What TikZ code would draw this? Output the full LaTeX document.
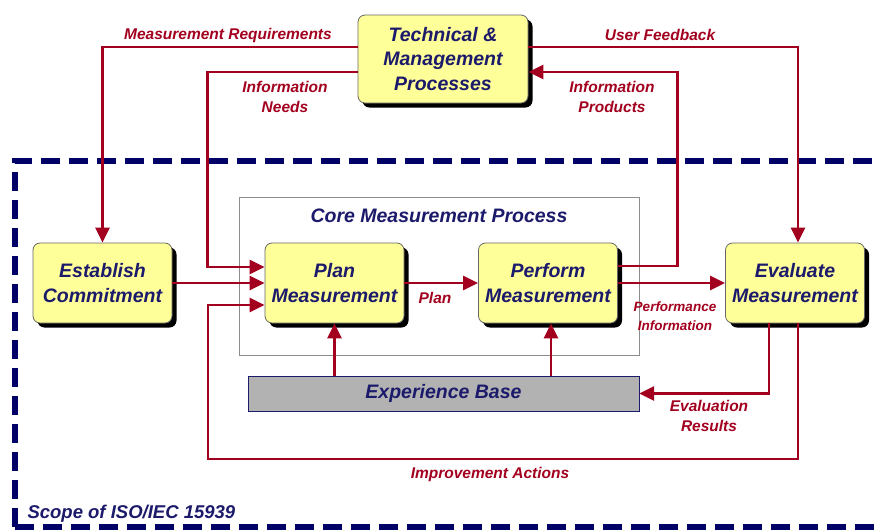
\documentclass[tikz,border=0pt]{standalone}
\usepackage{fontspec}
\setmainfont{Liberation Sans}
\usetikzlibrary{arrows.meta,shadows}
\definecolor{boxyellow}{HTML}{FFFF99}
\definecolor{inkblue}{HTML}{1C1A6B}
\definecolor{flowred}{HTML}{A3001F}
\definecolor{scopeblue}{HTML}{000066}
\tikzset{
    >={Triangle[length=15pt,width=14pt]},
    proc/.style={draw=black!60,thick,rounded corners=7pt,fill=boxyellow,
        minimum width=139pt,minimum height=80pt,align=center,text=inkblue,
        font=\fontsize{19.5}{24.5}\selectfont\bfseries\itshape,
        drop shadow={shadow xshift=4.5pt,shadow yshift=-4.5pt,fill=black,opacity=1}},
    flow/.style={draw=flowred,line width=2.9pt,->},
    lbl/.style={text=flowred,align=center,font=\fontsize{15.5}{20}\selectfont\bfseries\itshape},
    small lbl/.style={lbl,font=\fontsize{13.5}{19}\selectfont\bfseries\itshape}
}

\begin{document}
\begin{tikzpicture}[x=1pt,y=-1pt]
    \clip (0,0) rectangle (878,531);
    \fill[white] (0,0) rectangle (878,531);

    % scope of the standard
    \draw[scopeblue,line width=5.5pt,dash pattern=on 19pt off 9pt] (15,527) -- (15,161) -- (900,161);
    \draw[scopeblue,line width=5.5pt,dash pattern=on 19pt off 9pt] (15,527) -- (900,527);
    \node[anchor=base west,text=inkblue,font=\fontsize{18.5}{22}\selectfont\bfseries\itshape] (scope) at (24,518) {Scope of ISO/IEC 15939};

    % core process frame
    \node[draw=black!45,thin,minimum width=400pt,minimum height=158pt,
        label={[anchor=north,yshift=-9pt,text=inkblue,font=\fontsize{19.5}{24}\selectfont\bfseries\itshape]north:Core Measurement Process}]
        (core) at (439,276) {};

    % activities
    \node[proc,minimum width=170pt,minimum height=88pt] (tmp) at (443,59) {Technical \&\\Management\\Processes};
    \node[proc] (est) at (102.5,283) {Establish\\Commitment};
    \node[proc] (plan) at (334.5,283) {Plan\\Measurement};
    \node[proc] (perf) at (548,283) {Perform\\Measurement};
    \node[proc] (eval) at (795,283) {Evaluate\\Measurement};
    \node[draw=inkblue,fill=black!30,minimum width=391pt,minimum height=35pt,text=inkblue,
        font=\fontsize{19.5}{24}\selectfont\bfseries\itshape] (exp) at (443.5,393.5) {Experience Base};

    \coordinate (ia) at (208,459);

    % flows
    \draw[flow] ([yshift=12pt]tmp.west) -| (est.north);
    \draw[flow] ([yshift=-13pt]tmp.west) -| ([xshift=-57pt,yshift=16pt]plan.west) -- ([yshift=16pt]plan.west);
    \draw[flow] (est.east) -- (plan.west);
    \draw[flow] ([xshift=3pt]eval.south) |- (ia) |- ([yshift=-22pt]plan.west);
    \draw[flow] (plan.east) -- (perf.west);
    \draw[flow] ([yshift=17pt]perf.east) -- ++(60,0) |- ([yshift=-13pt]tmp.east);
    \draw[flow] (perf.east) -- (eval.west);
    \draw[flow] ([yshift=12pt]tmp.east) -| ([xshift=3pt]eval.north);
    \draw[flow] ([xshift=-26pt]eval.south) |- (exp.east);
    \draw[flow] (exp.north -| plan.south) -- (plan.south);
    \draw[flow] ([xshift=3pt]exp.north -| perf.south) -- ([xshift=3pt]perf.south);

    % flow labels
    \node[lbl] (mreq) at (228,35) {Measurement Requirements};
    \node[lbl] (ufb) at (660,35) {User Feedback};
    \node[lbl] (ineed) at (285,97) {Information\\Needs};
    \node[lbl] (iprod) at (612,97) {Information\\Products};
    \node[lbl] (plbl) at (435,298) {Plan};
    \node[small lbl] (pinfo) at (675,316) {Performance\\Information};
    \node[lbl] (eres) at (709,416) {Evaluation\\Results};
    \node[lbl] (iact) at (490,474) {Improvement Actions};
\end{tikzpicture}
\end{document}
